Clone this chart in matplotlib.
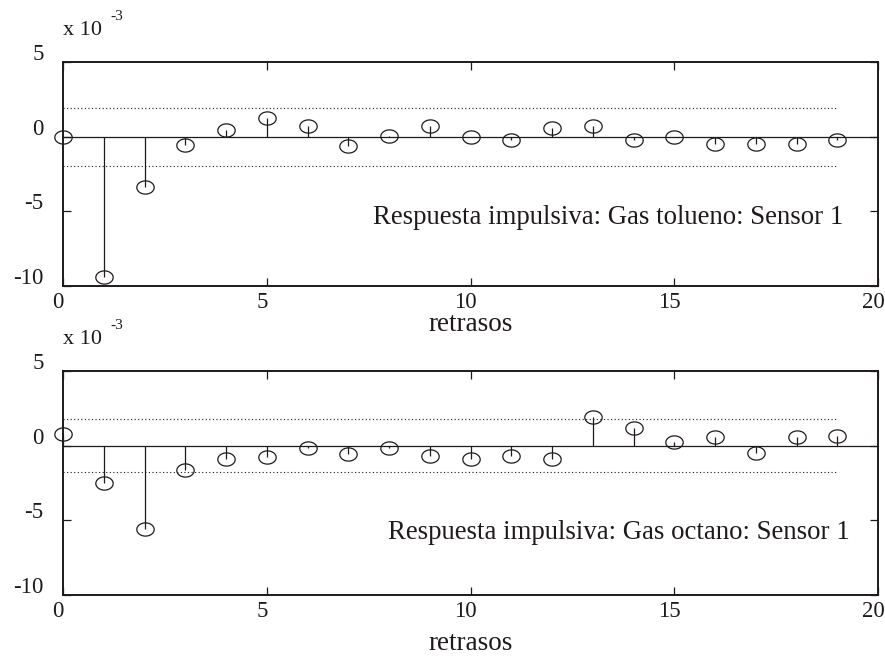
import numpy as np
import matplotlib
matplotlib.use("Agg")
import matplotlib.pyplot as plt
from matplotlib.path import Path
from matplotlib.transforms import ScaledTranslation
from matplotlib.ticker import FuncFormatter

plt.rcParams['font.family'] = ['Liberation Serif', 'DejaVu Serif']

# Lags and impulse-response coefficients (units of 1e-3)
lags = np.arange(20)
tolueno = [0.0, -9.4, -3.35, -0.55, 0.45, 1.25, 0.72, -0.65, 0.07, 0.70,
           -0.05, -0.23, 0.61, 0.70, -0.23, -0.03, -0.48, -0.48, -0.48, -0.20]
octano = [0.77, -2.49, -5.57, -1.65, -0.90, -0.79, -0.18, -0.56, -0.18, -0.68,
          -0.88, -0.68, -0.88, 1.93, 1.20, 0.27, 0.59, -0.50, 0.59, 0.66]
conf_tolueno = 1.95
conf_octano = 1.78
scale = 1e-3

titles = ["Respuesta impulsiva: Gas tolueno: Sensor 1",
          "Respuesta impulsiva: Gas octano: Sensor 1"]
xticks = [0, 5, 10, 15, 20]
yticks = [-10, -5, 0, 5]

INK = "#1e1a1b"
W, H = 885, 657
fig = plt.figure(figsize=(W / 100, H / 100), dpi=100)

# slightly flattened open circle marker
t = np.linspace(0, 2 * np.pi, 60)
ellipse = Path(np.column_stack([np.cos(t), 0.76 * np.sin(t)]), closed=True)

def px_axes(left, top, right, bottom):
    return fig.add_axes([left / W, 1 - bottom / H, (right - left) / W, (bottom - top) / H])

boxes = [(63, 62, 878, 286), (63, 371, 878, 595)]
series = [tolueno, octano]
confs = [conf_tolueno, conf_octano]
text_pos = [(19.15, -5.4), (19.3, -5.8)]
label_base = [331, 650]

for i, (box, vals, conf) in enumerate(zip(boxes, series, confs)):
    ax = px_axes(*box)
    v = np.asarray(vals) * scale
    ax.axhline(0, color=INK, lw=0.9, zorder=2)
    ax.plot([lags[0], lags[-1]], [conf * scale] * 2, color=INK, lw=0.8,
            ls=(0, (1, 2.2)), zorder=1)
    ax.plot([lags[0], lags[-1]], [-conf * scale] * 2, color=INK, lw=0.8,
            ls=(0, (1, 2.2)), zorder=1)
    ax.vlines(lags, 0, v, color=INK, lw=0.9, zorder=3)
    ax.plot(lags, v, ls='none', marker=ellipse, ms=12.5, mfc='none',
            mec=INK, mew=0.9, zorder=4, clip_on=False)

    ax.set_xlim(0, 20)
    ax.set_ylim(-10 * scale, 5 * scale)
    ax.set_xticks(xticks)
    ax.set_yticks([y * scale for y in yticks])
    ax.yaxis.set_major_formatter(FuncFormatter(lambda y, p: f"{y / scale:.0f}"))
    ax.tick_params(direction='in', top=True, right=True, length=6, width=0.9,
                   colors=INK, labelsize=16.5)
    ax.tick_params(axis='y', pad=14)
    ax.tick_params(axis='x', pad=4)
    for sp in ax.spines.values():
        sp.set_linewidth(1.4)
        sp.set_color(INK)

    for lab in ax.get_yticklabels():
        lab.set_transform(lab.get_transform() + ScaledTranslation(0, 10 / 100, fig.dpi_scale_trans))
    for lab in ax.get_xticklabels():
        lab.set_transform(lab.get_transform() + ScaledTranslation(-5 / 100, 0, fig.dpi_scale_trans))

    tx, ty = text_pos[i]
    ax.text(tx, ty * scale, titles[i], ha='right', va='center', fontsize=19.3, color=INK)

    left, top = box[0], box[1]
    fig.text(left / W, 1 - (top - 27) / H, "x 10", fontsize=16, color=INK,
             ha='left', va='baseline')
    fig.text((left + 47) / W, 1 - (top - 42) / H, "-3", fontsize=11, color=INK,
             ha='left', va='baseline')
    fig.text(470.5 / W, 1 - label_base[i] / H, "retrasos", fontsize=19.5, color=INK,
             ha='center', va='baseline')

fig.savefig("out.png", dpi=100)
